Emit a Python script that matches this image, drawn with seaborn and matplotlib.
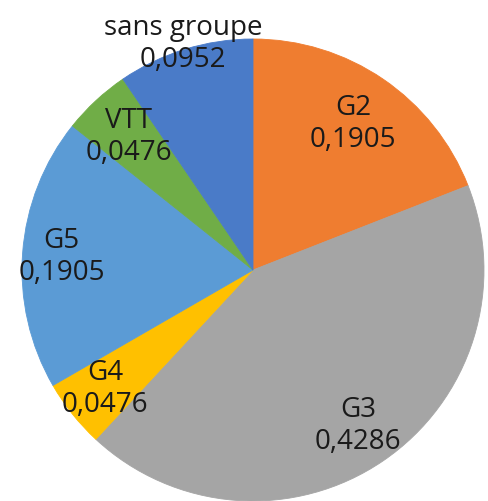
import matplotlib
matplotlib.use("Agg")
import matplotlib.pyplot as plt
import seaborn as sns
import numpy as np

categories = ["G2", "G3", "G4", "G5", "VTT", "sans groupe"]
values = [0.1905, 0.4286, 0.0476, 0.1905, 0.0476, 0.0952]
colors = ["#EF7D30", "#A5A5A5", "#FFC000", "#5B9BD5", "#70AD47", "#4A7BC8"]
label_r = [0.77, 0.81, 0.82, 0.83, 0.79, 1.03]

sns.set_theme(style="white")
plt.rcParams["font.family"] = ["Open Sans", "DejaVu Sans"]

W, H = 488, 502
fig = plt.figure(figsize=(W / 100, H / 100), dpi=100)
ax = fig.add_axes([0, 0, 1, 1])

cx, cy, R = 253, H - 271, 231
wedges, _ = ax.pie(values, colors=colors, startangle=90, counterclock=False,
                   center=(cx, cy), radius=R, frame=True,
                   wedgeprops=dict(linewidth=0.6, edgecolor="none"))
for w, c in zip(wedges, colors):
    w.set_edgecolor(c)
ax.set_xlim(0, W)
ax.set_ylim(0, H)
ax.set_aspect("equal")
ax.axis("off")

cum = np.cumsum([0] + values)
tot = cum[-1]
for i, (cat, v) in enumerate(zip(categories, values)):
    mid = (cum[i] + cum[i + 1]) / 2 / tot
    ang = np.deg2rad(90 - 360 * mid)
    x = cx + label_r[i] * R * np.cos(ang)
    y = cy + label_r[i] * R * np.sin(ang)
    txt = f"{cat}\n{v:.4f}".replace(".", ",")
    ax.text(x, y, txt, ha="center", va="center", fontsize=20,
            color="#1a1a1a", linespacing=1.2)

fig.savefig("out.png", dpi=100)
